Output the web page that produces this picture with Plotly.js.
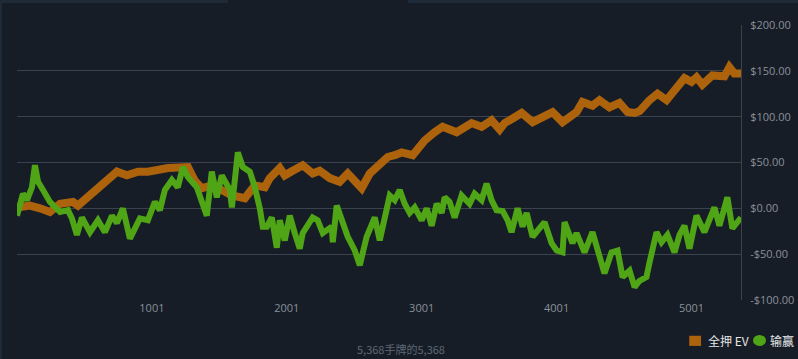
<!DOCTYPE html>
<html>
<head>
<meta charset="utf-8">
<script src="https://cdn.plot.ly/plotly-3.0.1.min.js"></script>
<style>
html,body{margin:0;padding:0;background:#161d27;overflow:hidden;}
#wrap{position:relative;width:798px;height:359px;}
#chart{position:absolute;left:0;top:0;width:798px;height:359px;}
.strip{position:absolute;background:#1f2a38;}
</style>
</head>
<body>
<div id="wrap">
<div id="chart"></div>
<div class="strip" style="left:0;top:0;width:228px;height:3px;"></div>
<div class="strip" style="left:408px;top:0;width:390px;height:3px;"></div>
<div class="strip" style="left:0;top:0;width:2px;height:359px;"></div>
</div>
<script>
// EV (全押 EV) series
const evHands = [1,97,171,245,320,416,453,520,594,668,742,816,897,971,1120,1268,1319,1371,1445,1519,1594,1690,1764,1838,1875,1949,1986,2045,2119,2193,2245,2319,2393,2453,2556,2616,2675,2749,2801,2853,2934,3023,3097,3156,3260,3371,3445,3519,3579,3616,3675,3742,3823,3912,3971,4045,4149,4193,4267,4319,4393,4467,4527,4579,4616,4690,4749,4816,4897,4949,5001,5038,5082,5156,5245,5282,5319,5368];
const evValues = [1,3,0,-4,5,7,3,12,20,29,40,36,40,40,44,45,30,22,25,20,14,11,25,23,33,44,36,41,47,38,41,33,29,38,22,38,47,56,58,61,58,74,83,89,83,93,89,96,86,93,98,104,94,100,105,94,105,116,112,118,110,115,105,104,106,118,125,118,131,142,138,143,135,145,144,154,147,147];
// Winnings (输赢) series
const wlHands = [1,23,45,75,112,134,157,194,245,320,379,408,445,482,542,601,653,705,742,786,838,912,971,1023,1060,1097,1149,1193,1231,1268,1334,1408,1445,1482,1519,1579,1594,1638,1675,1727,1764,1801,1823,1853,1890,1927,1949,1986,2023,2060,2097,2119,2193,2230,2268,2334,2342,2371,2408,2453,2505,2542,2593,2630,2653,2690,2727,2764,2801,2838,2875,2912,2949,3001,3038,3075,3112,3149,3171,3208,3245,3297,3356,3393,3445,3482,3519,3556,3601,3638,3667,3712,3749,3779,3823,3912,3964,4001,4045,4060,4119,4149,4208,4267,4356,4408,4453,4490,4542,4579,4616,4667,4690,4742,4779,4823,4875,4912,4949,4986,5038,5097,5171,5208,5267,5304,5368];
const wlValues = [-8,5,16,9,23,47,29,20,7,-4,-2,-11,-29,-10,-26,-13,-26,-8,-16,0,-33,-11,-13,7,-2,20,31,23,45,34,23,-8,40,12,36,20,1,61,45,40,23,0,-20,-20,-10,-43,-13,-35,-8,-27,-44,-27,-10,-13,-27,-20,-37,3,-13,-31,-46,-62,-31,-20,-10,-35,-10,14,9,20,5,-5,1,-13,0,-19,5,-5,12,7,-10,14,5,16,9,27,9,-2,-3,-13,-26,0,-20,-5,-31,-15,-38,-46,-48,-15,-38,-27,-48,-26,-71,-48,-46,-75,-68,-86,-79,-75,-59,-26,-37,-29,-48,-29,-19,-44,-8,-26,1,-19,12,-22,-10];
const xTickVals = [1001,2001,3001,4001,5001];
const yTickVals = [-100,-50,0,50,100,150,200];
const yTickText = ['-$100.00','-$50.00','$0.00','$50.00','$100.00','$150.00','$200.00'];
const seriesNames = ['全押 EV','输赢'];
const footerText = '5,368手牌的5,368';

const orange = '#ad620c';
const green = '#4fa515';

const traces = [
  {x: evHands, y: evValues, name:seriesNames[0], type:'scatter', mode:'lines', line:{color:orange, width:8}, showlegend:false, hoverinfo:'skip'},
  {x: wlHands, y: wlValues, name:seriesNames[1], type:'scatter', mode:'lines', line:{color:green, width:6}, showlegend:false, hoverinfo:'skip'}
];

const legendFont = {family:'"Noto Sans CJK SC", sans-serif', size:12, color:'#e6e6e6'};

const layout = {
  width:798, height:359,
  paper_bgcolor:'rgba(0,0,0,0)', plot_bgcolor:'rgba(0,0,0,0)',
  margin:{l:17, r:57, t:25, b:59},
  font:{family:'"Open Sans", "Noto Sans CJK SC", sans-serif', size:11, color:'#8a9099'},
  xaxis:{range:[1,5368], tickvals:xTickVals, ticktext:xTickVals.map(String), showgrid:false, zeroline:false,
         showline:false, ticks:'', tickfont:{size:11, color:'#8a9099'}, fixedrange:true},
  yaxis:{side:'right', range:[-100,200], tickvals:yTickVals, ticktext:yTickText, showgrid:true,
         gridcolor:'#3a424d', gridwidth:1, zeroline:false, showline:true, linecolor:'#3a424d', linewidth:1,
         ticks:'', ticklabelstandoff:6, tickfont:{size:11, color:'#8a9099'}, fixedrange:true},
  showlegend:false,
  shapes:[
    {type:'rect', xref:'paper', yref:'paper', x0:0.9285, x1:0.9448, y0:-0.167, y1:-0.130, fillcolor:orange, line:{width:0}, layer:'above'},
    {type:'circle', xref:'paper', yref:'paper', x0:1.0166, x1:1.0345, y0:-0.167, y1:-0.127, fillcolor:green, line:{width:0}, layer:'above'}
  ],
  annotations:[
    {text:footerText, xref:'paper', yref:'paper', x:0.530, y:-0.178, xanchor:'center', yanchor:'middle',
     showarrow:false, font:{family:'"Noto Sans CJK SC", sans-serif', size:11, color:'#5f6875'}},
    {text:seriesNames[0], xref:'paper', yref:'paper', x:0.9517, y:-0.147, xanchor:'left', yanchor:'middle', showarrow:false, font:legendFont},
    {text:seriesNames[1], xref:'paper', yref:'paper', x:1.0373, y:-0.147, xanchor:'left', yanchor:'middle', showarrow:false, font:legendFont}
  ],
  hovermode:false
};

Plotly.newPlot('chart', traces, layout, {displayModeBar:false, staticPlot:true});
</script>
</body>
</html>
